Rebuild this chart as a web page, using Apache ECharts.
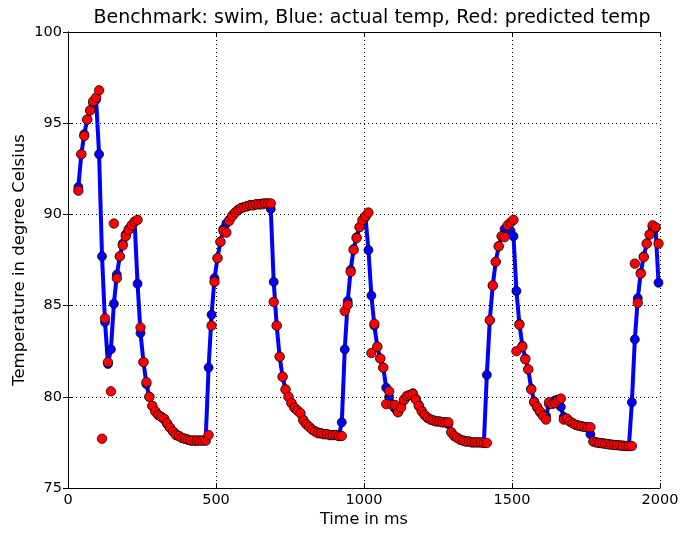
<!DOCTYPE html>
<html>
<head>
<meta charset="utf-8">
<script src="https://cdn.jsdelivr.net/npm/echarts@6/dist/echarts.min.js"></script>
<style>
html,body{margin:0;padding:0;background:#fff;}
#chart{width:682px;height:533px;}
</style>
</head>
<body>
<div id="chart"></div>
<script>
const chartTitle = 'Benchmark: swim, Blue: actual temp, Red: predicted temp';
const xAxisName = 'Time in ms';
const yAxisName = 'Temperature in degree Celsius';

const times = [
  35,45,55,65,75,85,95,105,115,125,135,145,155,165,175,185,195,205,215,225,
  235,245,255,265,275,285,295,305,315,325,335,345,355,365,375,385,395,405,415,425,
  435,445,455,465,475,485,495,505,515,525,535,545,555,565,575,585,595,605,615,625,
  635,645,655,665,675,685,695,705,715,725,735,745,755,765,775,785,795,805,815,825,
  835,845,855,865,875,885,895,905,915,925,935,945,955,965,975,985,995,1005,1015,1025,
  1035,1045,1055,1065,1075,1085,1095,1105,1115,1125,1135,1145,1155,1165,1175,1185,1195,1205,1215,1225,
  1235,1245,1255,1265,1275,1285,1295,1305,1315,1325,1335,1345,1355,1365,1375,1385,1395,1405,1415,1425,
  1435,1445,1455,1465,1475,1485,1495,1505,1515,1525,1535,1545,1555,1565,1575,1585,1595,1605,1615,1625,
  1635,1645,1655,1665,1675,1685,1695,1705,1715,1725,1735,1745,1755,1765,1775,1785,1795,1805,1815,1825,
  1835,1845,1855,1865,1875,1885,1895,1905,1915,1925,1935,1945,1955,1965,1975,1985,1995
];

const actualTemp = [
  91.5,93.3,94.4,95.2,95.7,96.1,96.3,93.3,87.7,84.1,81.8,82.6,85.1,86.7,87.7,88.4,88.9,89.2,89.4,89.6,
  86.2,83.5,81.9,80.7,80.0,79.5,79.2,79.0,78.9,78.75,78.5,78.3,78.1,77.95,77.85,77.75,77.7,77.65,77.6,77.6,
  77.6,77.6,77.6,77.6,81.6,84.5,86.5,87.6,88.5,89.2,89.5,89.7,89.95,90.1,90.25,90.35,90.4,90.45,90.5,90.5,
  90.55,90.55,90.6,90.6,90.6,90.3,86.3,83.9,82.2,81.1,80.4,80.0,79.65,79.4,79.25,79.1,78.75,78.5,78.35,78.2,
  78.1,78.05,78.0,77.95,77.95,77.9,77.9,77.9,77.85,78.6,82.6,85.25,86.95,88.1,88.75,89.3,89.65,89.85,88.05,85.55,
  83.9,82.75,82.1,81.6,80.5,80.0,79.6,79.35,79.2,79.5,79.8,80.0,80.1,80.2,79.9,79.55,79.25,79.0,78.85,78.75,
  78.7,78.65,78.65,78.6,78.6,78.5,78.05,77.85,77.75,77.65,77.6,77.55,77.55,77.5,77.5,77.5,77.5,77.47,81.2,84.2,
  86.1,87.4,88.25,88.8,89.2,89.3,89.1,88.8,85.8,84.0,82.8,82.1,81.5,80.45,79.75,79.4,79.15,79.0,78.95,79.6,
  79.7,79.8,79.85,79.45,78.9,78.8,78.65,78.55,78.47,78.42,78.38,78.35,78.33,77.95,77.55,77.5,77.47,77.45,77.43,77.4,
  77.38,77.36,77.35,77.33,77.32,77.3,77.3,79.7,83.15,85.4,86.8,87.7,88.4,88.9,89.3,89.25,86.25
];

const predictedTemp = [
  91.3,93.3,94.3,95.2,95.7,96.2,96.4,96.8,77.7,84.3,81.9,80.3,89.5,86.5,87.7,88.3,88.8,89.15,89.4,89.6,
  89.7,83.8,81.9,80.8,80.0,79.5,79.2,79.0,78.9,78.8,78.55,78.3,78.1,77.9,77.85,77.75,77.7,77.65,77.6,77.6,
  77.6,77.6,77.6,77.6,77.9,83.9,86.3,87.6,88.5,89.1,89.0,89.65,89.9,90.1,90.25,90.35,90.4,90.45,90.5,90.5,
  90.55,90.55,90.55,90.6,90.6,90.6,85.2,83.9,82.2,81.1,80.4,80.0,79.65,79.4,79.25,79.1,78.7,78.5,78.35,78.2,
  78.1,78.0,78.0,77.95,77.95,77.9,77.9,77.9,77.85,77.85,84.7,85.05,86.85,88.05,88.7,89.3,89.7,89.9,90.1,82.4,
  84.0,82.75,82.1,81.6,79.6,80.3,79.55,79.55,79.15,79.4,79.85,80.05,80.1,80.15,79.85,79.5,79.2,79.0,78.85,78.75,
  78.7,78.65,78.65,78.6,78.6,78.6,78.05,77.85,77.75,77.65,77.6,77.55,77.55,77.5,77.5,77.5,77.5,77.47,77.47,84.2,
  86.1,87.4,88.25,88.8,88.75,89.4,89.55,89.7,82.5,83.95,82.75,82.05,81.5,80.4,79.7,79.45,79.2,78.95,78.75,79.7,
  79.6,79.65,79.8,79.9,78.75,78.8,78.65,78.55,78.47,78.42,78.38,78.35,78.33,78.33,77.55,77.5,77.47,77.45,77.43,77.4,
  77.38,77.36,77.35,77.33,77.32,77.3,77.3,77.3,87.3,85.15,86.75,87.65,88.4,88.9,89.4,89.3,88.4
];

const xMin = 0, xMax = 2000, xStep = 500;
const yMin = 75, yMax = 100, yStep = 5;

const FONT = 'DejaVu Sans';
const chart = echarts.init(document.getElementById('chart'), null, {renderer: 'canvas'});

const axisLineStyle = {show: true, lineStyle: {color: '#000', width: 1}};
const tickStyle = {show: true, inside: true, length: 5, lineStyle: {color: '#000', width: 1}};
const gridLineStyle = {show: true, lineStyle: {color: '#000', width: 1, type: [1, 3]}};

const option = {
  animation: false,
  backgroundColor: '#ffffff',
  textStyle: {fontFamily: FONT},
  title: {
    text: chartTitle,
    left: 367,
    top: 4,
    textAlign: 'center',
    textStyle: {fontFamily: FONT, fontSize: 19, fontWeight: 'normal', color: '#000'}
  },
  grid: {left: 68, right: 22, top: 32, bottom: 41, containLabel: false},
  xAxis: [
    {
      type: 'value', min: xMin, max: xMax, interval: xStep, position: 'bottom',
      name: xAxisName, nameLocation: 'middle', nameGap: 24, nameMoveOverlap: false,
      nameTextStyle: {fontFamily: FONT, fontSize: 16, color: '#000'},
      axisLine: axisLineStyle, axisTick: tickStyle,
      axisLabel: {color: '#000', fontFamily: FONT, fontSize: 14.5, margin: 5, formatter: v => String(v)},
      splitLine: gridLineStyle
    },
    {
      type: 'value', min: xMin, max: xMax, interval: xStep, position: 'top',
      axisLine: axisLineStyle, axisTick: tickStyle,
      axisLabel: {show: false}, splitLine: {show: false}
    }
  ],
  yAxis: [
    {
      type: 'value', min: yMin, max: yMax, interval: yStep, position: 'left',
      name: yAxisName, nameLocation: 'middle', nameGap: 40, nameMoveOverlap: false,
      nameTextStyle: {fontFamily: FONT, fontSize: 16.5, color: '#000'},
      axisLine: axisLineStyle, axisTick: tickStyle,
      axisLabel: {color: '#000', fontFamily: FONT, fontSize: 14.5, margin: 6, formatter: v => String(v)},
      splitLine: gridLineStyle
    },
    {
      type: 'value', min: yMin, max: yMax, interval: yStep, position: 'right',
      axisLine: axisLineStyle, axisTick: tickStyle,
      axisLabel: {show: false}, splitLine: {show: false}
    }
  ],
  series: [
    {
      name: 'actual',
      type: 'line',
      xAxisIndex: 0, yAxisIndex: 0,
      data: times.map((t, i) => [t, actualTemp[i]]),
      showAllSymbol: true,
      symbol: 'circle',
      symbolSize: 9,
      lineStyle: {color: '#0000ff', width: 4},
      itemStyle: {color: '#0000ff', borderColor: '#000', borderWidth: 0.7},
      emphasis: {disabled: true},
      silent: true,
      z: 2
    },
    {
      name: 'predicted',
      type: 'scatter',
      xAxisIndex: 0, yAxisIndex: 0,
      data: times.map((t, i) => [t, predictedTemp[i]]),
      symbol: 'circle',
      symbolSize: 9.5,
      itemStyle: {color: '#ff0000', borderColor: '#000', borderWidth: 0.7, opacity: 1},
      emphasis: {disabled: true},
      silent: true,
      z: 3
    }
  ]
};
chart.setOption(option);
</script>
</body>
</html>
